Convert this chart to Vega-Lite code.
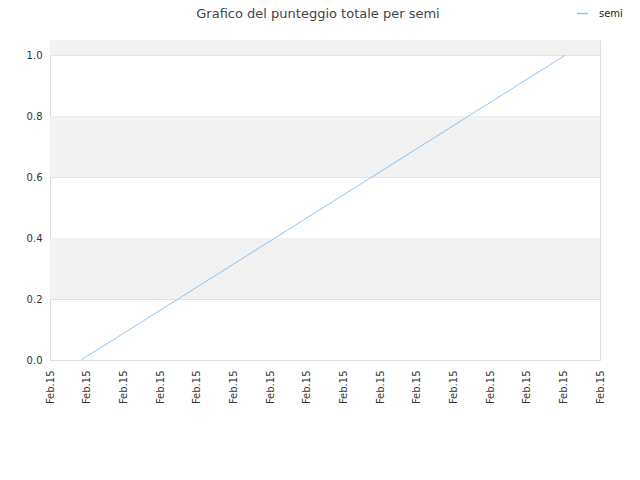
{
  "$schema": "https://vega.github.io/schema/vega-lite/v6.json",
  "autosize": "none",
  "width": 550,
  "height": 320,
  "padding": {"left": 50, "top": 40, "right": 40, "bottom": 120},
  "background": "white",
  "title": {
    "text": "Grafico del punteggio totale per semi",
    "anchor": "middle",
    "frame": "group",
    "dx": -7,
    "offset": -14,
    "fontSize": 13,
    "fontWeight": "normal",
    "font": "DejaVu Sans",
    "color": "#444444"
  },
  "config": {
    "view": {"stroke": "#dddddd"},
    "axis": {"labelFont": "DejaVu Sans", "labelFontSize": 10, "labelColor": "#333333", "ticks": false, "domain": false, "title": null}
  },
  "layer": [
    {
      "data": {"values": [
        {"da": 0.2, "a": 0.4},
        {"da": 0.6, "a": 0.8},
        {"da": 1.0, "a": 1.05}
      ]},
      "mark": {"type": "rect", "color": "#f2f2f2"},
      "encoding": {
        "y": {"field": "da", "type": "quantitative", "scale": {"domain": [0, 1.05], "nice": false}},
        "y2": {"field": "a"}
      }
    },
    {
      "data": {"values": [
        {"ora": "2023-02-15T00:51:00", "punteggio": 0, "serie": "semi"},
        {"ora": "2023-02-15T14:03:00", "punteggio": 1, "serie": "semi"}
      ]},
      "mark": {"type": "line", "strokeWidth": 1},
      "encoding": {
        "x": {
          "field": "ora",
          "type": "temporal",
          "scale": {"domain": [
            {"year": 2023, "month": 2, "date": 15, "hours": 0},
            {"year": 2023, "month": 2, "date": 15, "hours": 15}
          ]},
          "axis": {
            "values": [
              {"year": 2023, "month": 2, "date": 15, "hours": 0},
              {"year": 2023, "month": 2, "date": 15, "hours": 1},
              {"year": 2023, "month": 2, "date": 15, "hours": 2},
              {"year": 2023, "month": 2, "date": 15, "hours": 3},
              {"year": 2023, "month": 2, "date": 15, "hours": 4},
              {"year": 2023, "month": 2, "date": 15, "hours": 5},
              {"year": 2023, "month": 2, "date": 15, "hours": 6},
              {"year": 2023, "month": 2, "date": 15, "hours": 7},
              {"year": 2023, "month": 2, "date": 15, "hours": 8},
              {"year": 2023, "month": 2, "date": 15, "hours": 9},
              {"year": 2023, "month": 2, "date": 15, "hours": 10},
              {"year": 2023, "month": 2, "date": 15, "hours": 11},
              {"year": 2023, "month": 2, "date": 15, "hours": 12},
              {"year": 2023, "month": 2, "date": 15, "hours": 13},
              {"year": 2023, "month": 2, "date": 15, "hours": 14},
              {"year": 2023, "month": 2, "date": 15, "hours": 15}
            ],
            "format": "%b.%d",
            "labelAngle": -90,
            "labelPadding": 10,
            "labelAlign": "right",
            "labelBaseline": "middle",
            "grid": false
          }
        },
        "y": {
          "field": "punteggio",
          "type": "quantitative",
          "scale": {"domain": [0, 1.05], "nice": false},
          "axis": {
            "values": [0, 0.2, 0.4, 0.6, 0.8, 1.0],
            "format": ".1f",
            "labelPadding": 8,
            "grid": true,
            "gridColor": "#e0e0e0"
          }
        },
        "color": {
          "field": "serie",
          "type": "nominal",
          "scale": {"range": ["#90c4f4"]},
          "legend": {
            "title": null,
            "orient": "none",
            "legendX": 526,
            "legendY": -33,
            "symbolType": "stroke",
            "symbolSize": 120,
            "symbolStrokeWidth": 1.5,
            "labelOffset": 10,
            "labelFont": "DejaVu Sans",
            "labelFontSize": 10,
            "labelColor": "#222222"
          }
        }
      }
    }
  ]
}
